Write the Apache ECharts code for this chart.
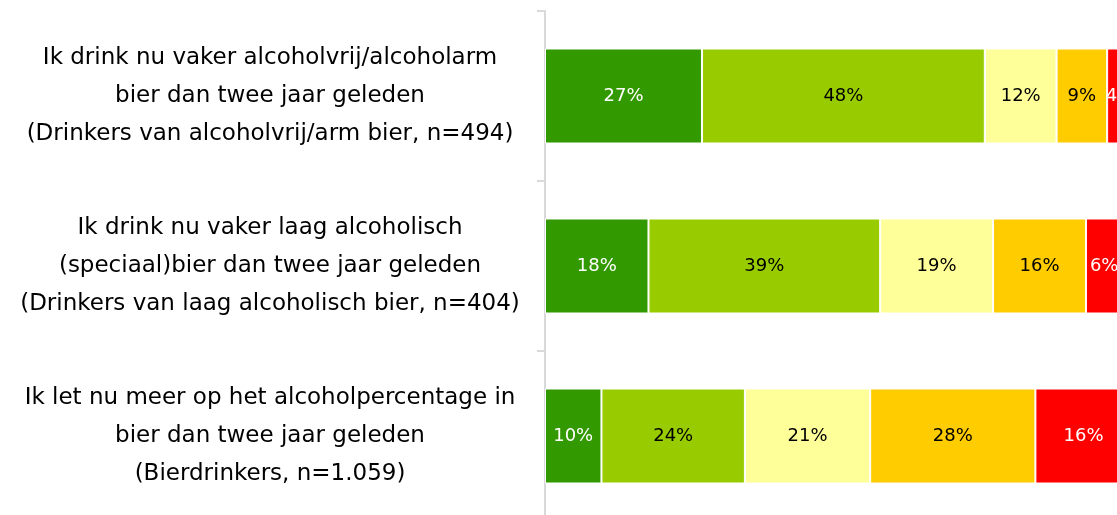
<!DOCTYPE html>
<html lang="nl" style="height: 100%; width: 100%; overflow: hidden">
<head>
    <meta charset="UTF-8">
    <title>Alcoholvrij bier</title>
    <script type="text/javascript" src="https://cdn.jsdelivr.net/npm/echarts@6/dist/echarts.min.js"></script>
</head>
<body style="height: 100%; width: 100%; margin: 0">
<div id="container" style="height: 515px; width: 1117px"></div>
</body>
</html>

<script type="text/javascript">

    var categories = [
        'Ik drink nu vaker alcoholvrij/alcoholarm\nbier dan twee jaar geleden\n(Drinkers van alcoholvrij/arm bier, n=494)',
        'Ik drink nu vaker laag alcoholisch\n(speciaal)bier dan twee jaar geleden\n(Drinkers van laag alcoholisch bier, n=404)',
        'Ik let nu meer op het alcoholpercentage in\nbier dan twee jaar geleden\n(Bierdrinkers, n=1.059)'
    ];

    var seriesNames = ['Helemaal mee eens', 'Mee eens', 'Neutraal', 'Mee oneens', 'Helemaal mee oneens'];

    var heelEens = [26.7, 17.6, 9.6];
    var eens = [48.1, 39.4, 24.4];
    var neutraal = [12.2, 19.2, 21.3];
    var oneens = [8.6, 15.8, 28.1];
    var heelOneens = [4.4, 6.2, 16.4];

    var colors = ['#339900', '#99cc00', '#ffff99', '#ffcc00', '#ff0000'];
    var labelColors = ['#ffffff', '#000000', '#000000', '#000000', '#ffffff'];

    var values = [heelEens, eens, neutraal, oneens, heelOneens];

    var dom = document.getElementById("container");
    var myChart = echarts.init(dom);

    var series = values.map(function (data, i) {
        return {
            name: seriesNames[i],
            type: 'bar',
            stack: 'total',
            barWidth: 95,
            data: data,
            itemStyle: {
                color: colors[i],
                borderColor: '#ffffff',
                borderWidth: 1
            },
            label: {
                show: true,
                position: 'inside',
                color: labelColors[i],
                fontFamily: 'DejaVu Sans',
                fontSize: 18,
                formatter: function (p) {
                    return Math.round(p.value) + '%';
                }
            }
        };
    });

    var option = {
        animation: false,
        grid: {
            left: 545,
            top: 11,
            width: 588,
            height: 510,
            containLabel: false,
            outerBoundsMode: 'none'
        },
        xAxis: {
            type: 'value',
            min: 0,
            max: 100,
            show: false
        },
        yAxis: {
            type: 'category',
            inverse: true,
            data: categories,
            axisLine: {lineStyle: {color: '#d9d9d9', width: 2}},
            axisTick: {show: true, length: 8, lineStyle: {color: '#d9d9d9', width: 2}},
            axisLabel: {
                align: 'center',
                margin: 275,
                color: '#000000',
                fontFamily: 'DejaVu Sans',
                fontSize: 23,
                lineHeight: 38,
                padding: [0, 0, 4, 0]
            }
        },
        series: series
    };

    myChart.setOption(option);

</script>
